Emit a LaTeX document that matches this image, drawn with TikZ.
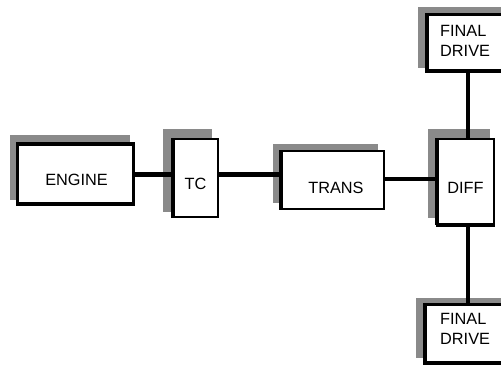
\documentclass[tikz,border=0pt]{standalone}
\usepackage{fontspec}
\setmainfont{Liberation Sans}
\definecolor{shade}{RGB}{138,138,138}
\begin{document}
\begin{tikzpicture}[x=1pt,y=-1pt,
  shadowbox/.style={fill=shade,draw=none},
  blk/.style={draw=black,fill=white,line width=#1,inner sep=0pt,rectangle},
  blk/.default=2pt,
  edge/.style={line width=4pt,line cap=butt},
  conn/.style={line width=4.3pt,draw=black},
  lbl/.style={inner sep=0pt,font=\fontsize{16.3}{19.5}\selectfont},
  lblblock/.style={lbl,align=left,anchor=north west}]
\clip (0,0) rectangle (501,365);
\fill[white] (0,0) rectangle (501,365);

% drop shadows
\fill[shadowbox] (10,135) rectangle (130,200);
\fill[shadowbox] (163,129) rectangle (212,212);
\fill[shadowbox] (273,144) rectangle (378,203);
\fill[shadowbox] (428,129) rectangle (490,218);
\fill[shadowbox] (418,7) rectangle (520,68);
\fill[shadowbox] (416,298) rectangle (520,358);

% blocks
\node[blk=3.5pt,minimum width=116pt,minimum height=60pt] (engine) at (75.5,174) {};
\node[blk,minimum width=44.5pt,minimum height=78.5pt] (tc) at (195.25,177.75) {};
\node[blk,minimum width=103.5pt,minimum height=58pt] (trans) at (332.25,179.5) {};
\node[blk,minimum width=57pt,minimum height=84.5pt] (diff) at (465.5,181.25) {};
\node[blk=3.5pt,minimum width=100pt,minimum height=56.5pt] (fdtop) at (477,42.75) {};
\node[blk=3.5pt,minimum width=100pt,minimum height=58.5pt] (fdbot) at (475,333.75) {};

% heavier left edges
\draw[edge] ([xshift=1pt]tc.south west) -- ([xshift=1pt]tc.north west);
\draw[edge] ([xshift=1pt]trans.south west) -- ([xshift=1pt]trans.north west);
\draw[edge] ([xshift=1pt]diff.south west) -- ([xshift=1pt]diff.north west);
\draw[line width=3pt] ([yshift=-0.5pt]diff.south west) -- ([yshift=-0.5pt]diff.south east);

% labels
\node[lbl] (tengine) at (76.5,179.5) {ENGINE};
\node[lbl] (ttc) at (195.5,184) {TC};
\node[lbl] (ttrans) at (336,187.5) {TRANS};
\node[lbl] (tdiff) at (465.5,187.5) {DIFF};
\node[lblblock] (tfdtop) at (440,25.5) {FINAL\\DRIVE};
\node[lblblock] (tfdbot) at (440,313.5) {FINAL\\DRIVE};

% shafts
\coordinate (ya) at (0,174.5);
\coordinate (yb) at (0,179);
\coordinate (xv) at (468,0);
\draw[conn] (engine.east |- ya) -- (tc.west |- ya);
\draw[conn] (tc.east |- ya) -- (trans.west |- ya);
\draw[conn] (trans.east |- yb) -- (diff.west |- yb);
\draw[conn] (xv |- diff.north) -- (xv |- fdtop.south);
\draw[conn] (xv |- diff.south) -- (xv |- fdbot.north);
\end{tikzpicture}
\end{document}
